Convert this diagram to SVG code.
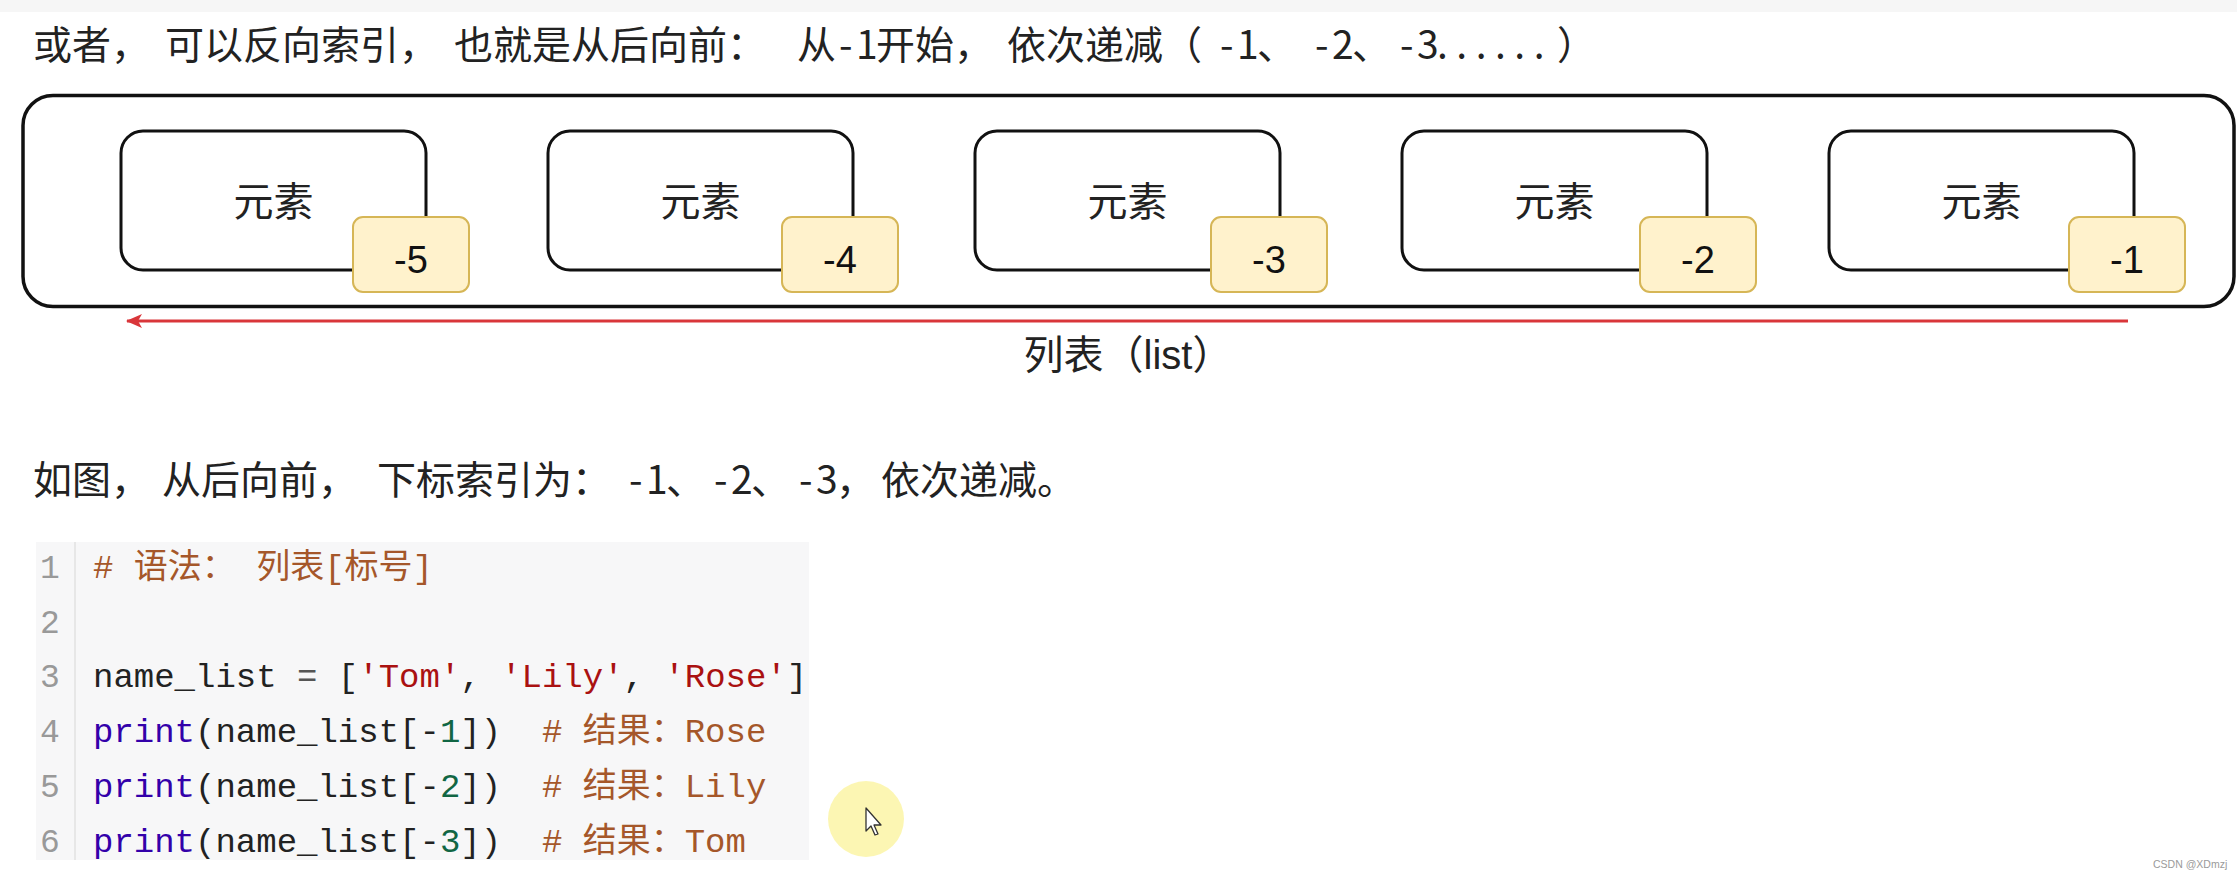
<svg xmlns="http://www.w3.org/2000/svg" width="2237" height="878" viewBox="0 0 2237 878">
<style>
.para{font-family:"Noto Sans CJK SC","Liberation Serif",serif;font-size:39px;fill:#222}
.box{fill:#fff;stroke:#111;stroke-width:3}
.badge{fill:#fff2cc;stroke:#d6b656;stroke-width:2}
.lbl{font-family:"Liberation Sans","Noto Sans CJK SC",sans-serif;font-size:40px;fill:#222;text-anchor:middle}
.num{font-family:"Liberation Sans",sans-serif;font-size:38px;fill:#111;text-anchor:middle}
.code{font-family:"Liberation Mono","Noto Sans CJK SC",monospace;font-size:34px;fill:#222}
.ln{font-family:"Liberation Mono",monospace;font-size:33px;fill:#999}
.cm{fill:#a5572a}
.st{fill:#a11}
.kw{fill:#30a}
.nb{fill:#164}
.op{fill:#555}
</style>
<defs>
<marker id="arrowhead" viewBox="0 0 16 14" refX="15" refY="7" markerWidth="16" markerHeight="14" markerUnits="userSpaceOnUse" orient="auto">
<path d="M0,0 L16,7 L0,14 L4,7 Z" fill="#d9363a"/>
</marker>
</defs>
<rect x="0" y="0" width="2237" height="878" fill="#fff"/>
<rect x="0" y="0" width="2237" height="12" fill="#f6f6f6"/>

<g id="title">
<text class="para" y="59"><tspan x="33">或者，</tspan><tspan x="165">可以反向索引，</tspan><tspan x="454">也就是从后向前：</tspan><tspan x="797">从</tspan><tspan x="839 856">-1</tspan><tspan x="876">开始，</tspan><tspan x="1007">依次递减（</tspan><tspan x="1220 1237">-1</tspan><tspan x="1257">、</tspan><tspan x="1315 1332">-2</tspan><tspan x="1352">、</tspan><tspan x="1400 1417">-3</tspan><tspan x="1437" letter-spacing="8.5">......</tspan><tspan x="1557">）</tspan></text>
</g>

<g id="list">
<rect x="23" y="95.5" width="2211" height="211" rx="30" ry="30" fill="none" stroke="#111" stroke-width="3.5"/>
</g>

<g id="elem-5">
<rect class="box" x="121" y="131" width="305" height="139" rx="22" ry="22"/>
<text class="lbl" x="273.5" y="216">元素</text>
<rect class="badge" x="353" y="217" width="116" height="75" rx="10" ry="10"/>
<text class="num" x="411" y="273">-5</text>
</g>
<g id="elem-4">
<rect class="box" x="548" y="131" width="305" height="139" rx="22" ry="22"/>
<text class="lbl" x="700.5" y="216">元素</text>
<rect class="badge" x="782" y="217" width="116" height="75" rx="10" ry="10"/>
<text class="num" x="840" y="273">-4</text>
</g>
<g id="elem-3">
<rect class="box" x="975" y="131" width="305" height="139" rx="22" ry="22"/>
<text class="lbl" x="1127.5" y="216">元素</text>
<rect class="badge" x="1211" y="217" width="116" height="75" rx="10" ry="10"/>
<text class="num" x="1269" y="273">-3</text>
</g>
<g id="elem-2">
<rect class="box" x="1402" y="131" width="305" height="139" rx="22" ry="22"/>
<text class="lbl" x="1554.5" y="216">元素</text>
<rect class="badge" x="1640" y="217" width="116" height="75" rx="10" ry="10"/>
<text class="num" x="1698" y="273">-2</text>
</g>
<g id="elem-1">
<rect class="box" x="1829" y="131" width="305" height="139" rx="22" ry="22"/>
<text class="lbl" x="1981.5" y="216">元素</text>
<rect class="badge" x="2069" y="217" width="116" height="75" rx="10" ry="10"/>
<text class="num" x="2127" y="273">-1</text>
</g>

<g id="connectors">
<line x1="2128" y1="321" x2="127" y2="321" stroke="#d9363a" stroke-width="3" marker-end="url(#arrowhead)"/>
</g>

<g id="list-label">
<text class="lbl" x="1128" y="369">列表（list）</text>
</g>

<g id="caption">
<text class="para" y="494"><tspan x="33">如图，</tspan><tspan x="162">从后向前，</tspan><tspan x="377">下标索引为：</tspan><tspan x="629 646">-1</tspan><tspan x="666">、</tspan><tspan x="714 731">-2</tspan><tspan x="751">、</tspan><tspan x="799 816">-3</tspan><tspan x="836">，</tspan><tspan x="881">依次递减。</tspan></text>
</g>

<g id="code">
<rect x="36" y="542" width="773" height="318" fill="#f7f7f8"/>
<line x1="75" y1="542" x2="75" y2="860" stroke="#e2e2e2" stroke-width="1.5"/>
<text class="ln" x="40" y="578">1</text>
<text class="ln" x="40" y="633">2</text>
<text class="ln" x="40" y="687">3</text>
<text class="ln" x="40" y="742">4</text>
<text class="ln" x="40" y="797">5</text>
<text class="ln" x="40" y="852">6</text>
<text class="code" x="93" y="578" xml:space="preserve"><tspan class="cm"># 语法： 列表[标号]</tspan></text>
<text class="code" x="93" y="687" xml:space="preserve">name_list <tspan class="op">=</tspan> [<tspan class="st">'Tom'</tspan>, <tspan class="st">'Lily'</tspan>, <tspan class="st">'Rose'</tspan>]</text>
<text class="code" x="93" y="742" xml:space="preserve"><tspan class="kw">print</tspan>(name_list[-<tspan class="nb">1</tspan>])  <tspan class="cm"># 结果：Rose</tspan></text>
<text class="code" x="93" y="797" xml:space="preserve"><tspan class="kw">print</tspan>(name_list[-<tspan class="nb">2</tspan>])  <tspan class="cm"># 结果：Lily</tspan></text>
<text class="code" x="93" y="852" xml:space="preserve"><tspan class="kw">print</tspan>(name_list[-<tspan class="nb">3</tspan>])  <tspan class="cm"># 结果：Tom</tspan></text>
</g>

<g id="cursor">
<circle cx="866" cy="819" r="38" fill="#fcf5a6" opacity="0.85"/>
<path d="M866,808 L866,831 L871,826 L875,835 L878,834 L874,825 L881,825 Z" fill="#fff" stroke="#333" stroke-width="1.3" stroke-linejoin="round"/>
</g>

<g id="watermark">
<text x="2153" y="868" font-family="Liberation Sans, sans-serif" font-size="10.5" fill="#9a9a9a">CSDN @XDmzj</text>
</g>
</svg>
